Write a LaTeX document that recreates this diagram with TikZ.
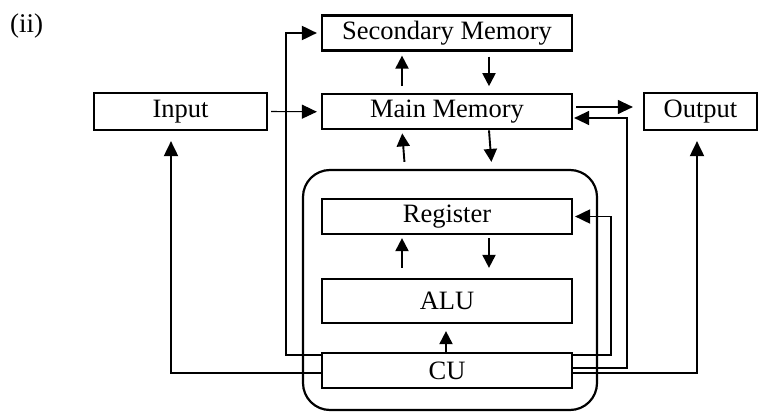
\documentclass[tikz,border=0pt]{standalone}
\usepackage{fontspec}
\setmainfont{Liberation Serif}
\usetikzlibrary{arrows.meta}
\begin{document}
\begin{tikzpicture}[x=1pt,y=-1pt,
  box/.style={draw, line width=2.2pt, inner sep=0pt, minimum height=35pt, minimum width=250pt, font=\fontsize{26.5}{30}\selectfont},
  tip/.style={-{Triangle[length=15pt,width=14pt]}},
  smalltip/.style={-{Triangle[length=13pt,width=13pt]}},
  thick conn/.style={line width=1.9pt},
  thin conn/.style={line width=1.1pt},
  mid conn/.style={line width=1.4pt}
]
\useasboundingbox (0,0) rectangle (771,412);

\node[anchor=base west, font=\fontsize{27}{30}\selectfont, inner sep=0pt] (lbl) at (10,33) {(ii)};

% outer CPU box
\node[draw, line width=2.2pt, rounded corners=27pt, minimum width=294pt, minimum height=240pt, inner sep=0pt] (cpu) at (450,290) {};

\node[box] (sm) at (447,33) {Secondary Memory};
\node[box] (mm) at (447,111.8) {Main Memory};
\node[box, minimum width=173pt, minimum height=37pt] (in) at (180.5,111.5) {Input};
\node[box, minimum width=113pt, minimum height=37pt] (out) at (700.5,111.5) {Output};
\node[box] (reg) at (447,216.5) {Register};
\node[box, minimum height=44pt] (alu) at (447,301) {ALU};
\node[box] (cu) at (447,370.5) {CU};

\coordinate (lx) at (286,33);
\coordinate (rx1) at (611,216.5);
\coordinate (rx2) at (627,118);

% secondary <-> main
\draw[thick conn, smalltip, shorten <=7pt, shorten >=4pt] ([xshift=-45pt]mm.north) -- ([xshift=-45pt]sm.south);
\draw[thick conn, smalltip, shorten <=5pt, shorten >=7pt] ([xshift=42pt]sm.south) -- ([xshift=42pt]mm.north);

% main <-> cpu
\draw[thick conn, smalltip, shorten <=7pt, shorten >=3pt] ([xshift=-45pt]cpu.north) -- ([xshift=-45pt]mm.south);
\draw[thick conn, smalltip, shorten >=8pt] ([xshift=42pt]mm.south) -- ([xshift=42pt,yshift=-1pt]cpu.north);

% register <-> ALU
\draw[thick conn, smalltip, shorten <=10pt, shorten >=3pt] ([xshift=-45pt]alu.north) -- ([xshift=-45pt]reg.south);
\draw[thick conn, smalltip, shorten <=3pt, shorten >=10pt] ([xshift=42pt]reg.south) -- ([xshift=42pt]alu.north);

% CU -> ALU
\draw[thick conn, smalltip, shorten >=7pt] ([xshift=-1pt]cu.north) -- ([xshift=-1pt]alu.south);

% CU -> Secondary Memory
\draw[thick conn, tip, shorten >=4pt] ([yshift=-3pt]cu.north west) -| (lx) -- (sm.west);

% CU -> Input
\draw[thick conn, tip, shorten >=10pt] ([yshift=-2.5pt]cu.west) -| ([xshift=-9.5pt]in.south);

% Input -> Main Memory
\draw[thin conn, tip, shorten <=3pt, shorten >=4pt] (in.east) -- (mm.west);

% Main Memory -> Output
\draw[thin conn, tip, shorten <=3pt, shorten >=10pt] ([yshift=4.8pt]mm.east) -- ([yshift=4.5pt]out.west);

% CU -> Main Memory
\draw[mid conn, tip, shorten >=1pt] ([yshift=2.5pt]cu.east) -| (rx2) -- ([yshift=-6.2pt]mm.east);

% CU -> Register
\draw[thick conn, tip, shorten >=2pt] ([yshift=-3pt]cu.north east) -| (rx1) -- (reg.east);

% CU -> Output
\draw[thick conn, tip, shorten >=10pt] ([yshift=-2.5pt]cu.east) -| ([xshift=-3.5pt]out.south);
\end{tikzpicture}
\end{document}
